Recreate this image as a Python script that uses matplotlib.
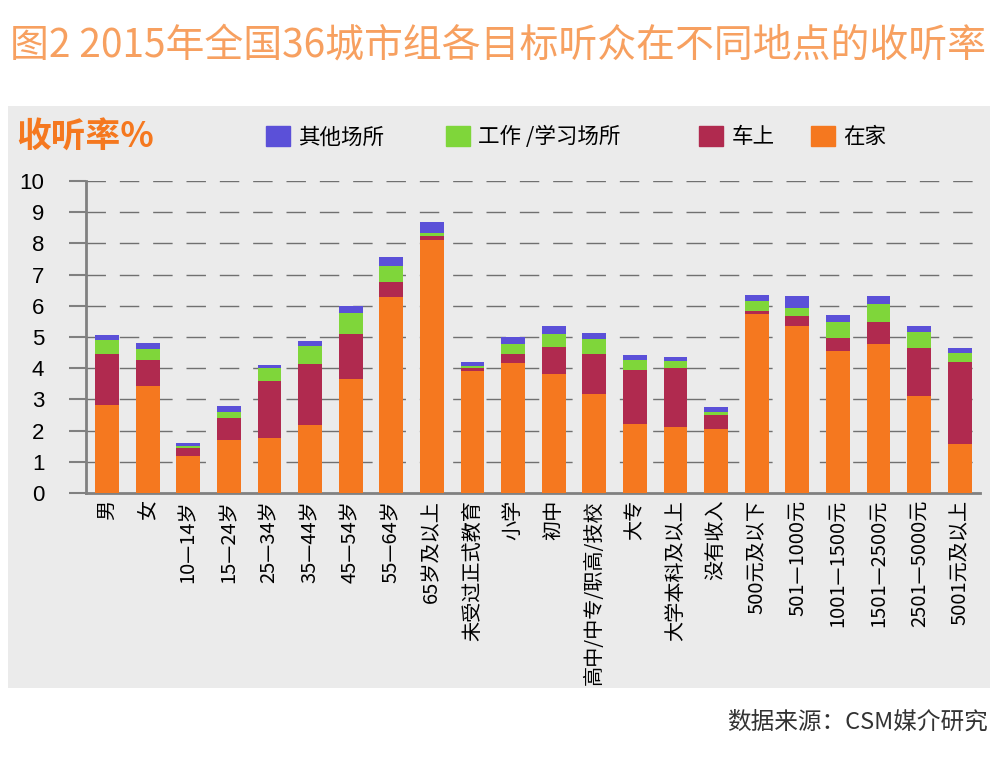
import matplotlib.pyplot as plt
from matplotlib.patches import Rectangle, Patch
import numpy as np

plt.rcParams['font.family'] = ['Noto Sans CJK SC', 'DejaVu Sans']

categories = ['男', '女', '10—14岁', '15—24岁', '25—34岁', '35—44岁', '45—54岁',
              '55—64岁', '65岁及以上', '未受过正式教育', '小学', '初中',
              '高中/中专/职高/技校', '大专', '大学本科及以上', '没有收入',
              '500元及以下', '501—1000元', '1001—1500元', '1501—2500元',
              '2501—5000元', '5001元及以上']

# values read as cumulative tops, converted to segments below
home = [2.83, 3.43, 1.18, 1.69, 1.76, 2.19, 3.65, 6.28, 8.10, 3.90, 4.17,
        3.80, 3.16, 2.22, 2.12, 2.06, 5.75, 5.34, 4.55, 4.76, 3.10, 1.56]
car_top = [4.44, 4.25, 1.45, 2.40, 3.58, 4.15, 5.11, 6.76, 8.24, 4.01, 4.47,
           4.68, 4.44, 3.93, 4.01, 2.49, 5.82, 5.66, 4.97, 5.48, 4.64, 4.19]
work_top = [4.89, 4.62, 1.52, 2.60, 4.01, 4.70, 5.77, 7.28, 8.34, 4.07, 4.79,
            5.11, 4.94, 4.25, 4.22, 2.60, 6.14, 5.94, 5.48, 6.07, 5.16, 4.49]
other_top = [5.07, 4.80, 1.60, 2.79, 4.09, 4.87, 5.99, 7.56, 8.68, 4.19, 5.00,
             5.34, 5.13, 4.43, 4.36, 2.76, 6.34, 6.30, 5.69, 6.30, 5.34, 4.65]

home = np.array(home)
car = np.array(car_top) - home
work = np.array(work_top) - np.array(car_top)
other = np.array(other_top) - np.array(work_top)

c_home = '#F5781F'
c_car = '#B02A4F'
c_work = '#7FD63A'
c_other = '#5B50D8'

fig = plt.figure(figsize=(10.08, 7.64), dpi=100)
fig.patches.append(Rectangle((8 / 1008, 1 - 688 / 764), 982 / 1008, 582 / 764,
                             transform=fig.transFigure, facecolor='#EBEBEB',
                             edgecolor='none', zorder=-10))

ax = fig.add_axes([86 / 1008, 1 - 493 / 764, 894 / 1008, 312 / 764])
ax.set_facecolor('none')

x = np.arange(len(categories))
w = 0.59
ax.bar(x, home, w, color=c_home, zorder=3)
ax.bar(x, car, w, bottom=home, color=c_car, zorder=3)
ax.bar(x, work, w, bottom=home + car, color=c_work, zorder=3)
ax.bar(x, other, w, bottom=home + car + work, color=c_other, zorder=3)

ax.set_xlim(-0.52, len(categories) - 0.5)
ax.set_ylim(0, 10)
ax.set_yticks(range(0, 11))
ax.set_xticks(x)
ax.set_xticklabels(categories, rotation=90, fontsize=14.5, va='top', ha='center')
ax.tick_params(axis='x', length=0, pad=5)
ax.tick_params(axis='y', length=12, width=1.5, color='#808080', pad=18, labelsize=16)
for t in ax.get_yticklabels():
    t.set_family(['Liberation Sans', 'DejaVu Sans'])

for yv in range(1, 11):
    ax.axhline(yv, color='#707070', lw=1, ls=(0, (14, 10)), zorder=1)

for s in ['top', 'right']:
    ax.spines[s].set_visible(False)
ax.spines['left'].set_color('#808080')
ax.spines['left'].set_linewidth(2)
ax.spines['bottom'].set_color('#808080')
ax.spines['bottom'].set_linewidth(2)

# legend entries sit at uneven spots in the original, so one legend per entry
legend_items = [(c_other, '其他场所', 266), (c_work, '工作 /学习场所', 446),
                (c_car, '车上', 699), (c_home, '在家', 811)]
for col, lab, px in legend_items:
    leg = fig.legend(handles=[Patch(color=col, label=lab)], loc='center left',
                     bbox_to_anchor=(px / 1008, 1 - 137 / 764), frameon=False,
                     fontsize=15.5, handlelength=1.1, handleheight=1.1,
                     handletextpad=0.4, borderpad=0, borderaxespad=0)

fig.text(16 / 1008, 1 - 137 / 764, '收听率%', color=c_home, fontsize=25,
         fontweight='bold', va='center', ha='left')
fig.text(10 / 1008, 1 - 45 / 764, '图2 2015年全国36城市组各目标听众在不同地点的收听率',
         color='#F7A060', fontsize=28, va='center', ha='left')
fig.text(988 / 1008, 1 - 722 / 764, '数据来源：CSM媒介研究', color='#333333',
         fontsize=17, va='center', ha='right')

fig.savefig('out.png', dpi=100)
